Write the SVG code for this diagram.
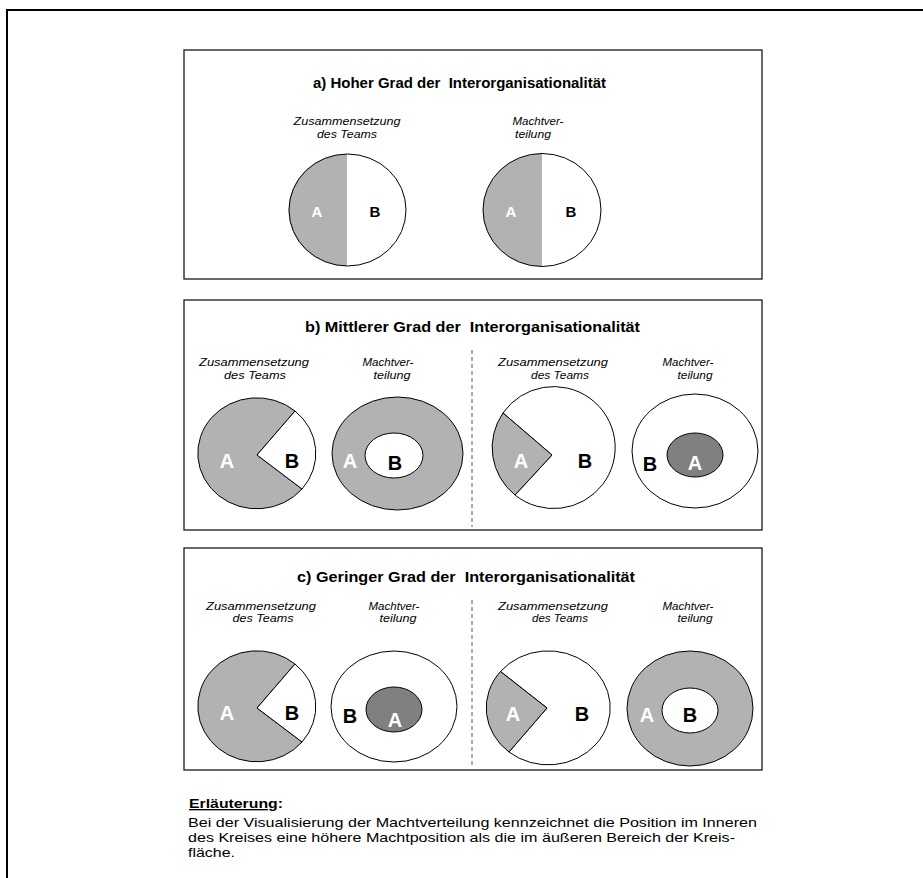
<svg xmlns="http://www.w3.org/2000/svg" width="923" height="878" viewBox="0 0 923 878">
<style>
.panel{fill:#fff;stroke:#1a1a1a;stroke-width:1.3}
.ttl{font-family:"Liberation Sans",Arial,sans-serif;font-weight:bold;font-size:15px;fill:#000}
.sub{font-family:"Liberation Sans",Arial,sans-serif;font-style:italic;font-size:11.5px;fill:#000;text-anchor:middle}
.lbl{font-family:"Liberation Sans",Arial,sans-serif;font-weight:bold;font-size:20px;text-anchor:middle}
.sm{font-size:15px}
.la{fill:#fff}
.lb{fill:#000}
.g{fill:#b2b2b2}
.d{fill:#808080}
.w{fill:#fff}
.ol{stroke:#000;stroke-width:1}
.sep{stroke:#555;stroke-width:1;stroke-dasharray:4 3;fill:none}
.txt{font-family:"Liberation Sans",Arial,sans-serif;font-size:13.5px;fill:#000}
</style>
<path d="M7,880 V10 H925" fill="none" stroke="#000" stroke-width="2"/>

<g id="panel-a">
<rect class="panel" x="184" y="50" width="578" height="229"/>
<text class="ttl" x="313" y="88" textLength="293" lengthAdjust="spacingAndGlyphs" xml:space="preserve">a) Hoher Grad der  Interorganisationalität</text>
<g id="a-zusammensetzung">
<text class="sub" x="347" y="125" textLength="107" lengthAdjust="spacingAndGlyphs">Zusammensetzung</text>
<text class="sub" x="347" y="137.5" textLength="60" lengthAdjust="spacingAndGlyphs">des Teams</text>
<ellipse class="w" cx="347.5" cy="210" rx="58.5" ry="56"/>
<path class="g" d="M347,154 A58.5,56 0 0,0 347,266 Z"/>
<ellipse cx="347.5" cy="210" rx="58.5" ry="56" fill="none" class="ol"/>
<text class="lbl sm la" x="317" y="217">A</text>
<text class="lbl sm lb" x="375" y="217">B</text>
</g>
<g id="a-machtverteilung">
<text class="sub" x="538" y="125">Machtver-</text>
<text class="sub" x="533" y="137.5" textLength="36" lengthAdjust="spacingAndGlyphs">teilung</text>
<ellipse class="w" cx="542" cy="210" rx="59" ry="56.5"/>
<path class="g" d="M542,153.5 A59,56.5 0 0,0 542,266.5 Z"/>
<ellipse cx="542" cy="210" rx="59" ry="56.5" fill="none" class="ol"/>
<text class="lbl sm la" x="511" y="217">A</text>
<text class="lbl sm lb" x="571" y="217">B</text>
</g>
</g>

<g id="panel-b">
<rect class="panel" x="184" y="300" width="578" height="230"/>
<text class="ttl" x="305" y="332" textLength="335" lengthAdjust="spacingAndGlyphs" xml:space="preserve">b) Mittlerer Grad der  Interorganisationalität</text>
<g id="b1-zusammensetzung">
<text class="sub" x="254" y="366" textLength="110" lengthAdjust="spacingAndGlyphs">Zusammensetzung</text>
<text class="sub" x="255" y="378.5" textLength="62" lengthAdjust="spacingAndGlyphs">des Teams</text>
<path class="g ol" d="M257,455 L302,489 A59,55.5 0 1,1 295,411 Z"/>
<path class="w ol" d="M257,455 L295,411 A59,55.5 0 0,1 302,489 Z"/>
<text class="lbl la" x="227" y="468">A</text>
<text class="lbl lb" x="292" y="468">B</text>
</g>
<g id="b1-machtverteilung">
<text class="sub" x="388" y="366">Machtver-</text>
<text class="sub" x="392" y="378.5" textLength="37" lengthAdjust="spacingAndGlyphs">teilung</text>
<ellipse class="g ol" cx="397.5" cy="453.5" rx="65.5" ry="56.5"/>
<ellipse class="w ol" cx="394" cy="455.5" rx="29" ry="22.5"/>
<text class="lbl la" x="350" y="468">A</text>
<text class="lbl lb" x="395" y="470">B</text>
</g>
<g id="b2-zusammensetzung">
<text class="sub" x="553" y="366" textLength="110" lengthAdjust="spacingAndGlyphs">Zusammensetzung</text>
<text class="sub" x="560" y="378.5" textLength="58" lengthAdjust="spacingAndGlyphs">des Teams</text>
<path class="w ol" d="M552,455 L503,413 A61.5,61 0 1,1 515,495 Z"/>
<path class="g ol" d="M552,455 L515,495 A61.5,61 0 0,1 503,413 Z"/>
<text class="lbl la" x="521" y="468">A</text>
<text class="lbl lb" x="585" y="468">B</text>
</g>
<g id="b2-machtverteilung">
<text class="sub" x="688" y="366">Machtver-</text>
<text class="sub" x="695" y="378.5" textLength="35" lengthAdjust="spacingAndGlyphs">teilung</text>
<ellipse class="w ol" cx="695" cy="451" rx="63" ry="57"/>
<ellipse class="d ol" cx="695" cy="455" rx="28" ry="22"/>
<text class="lbl lb" x="650" y="471">B</text>
<text class="lbl la" x="695" y="470">A</text>
</g>
</g>

<g id="panel-c">
<rect class="panel" x="184" y="548" width="578" height="222"/>
<text class="ttl" x="297" y="582" textLength="338" lengthAdjust="spacingAndGlyphs" xml:space="preserve">c) Geringer Grad der  Interorganisationalität</text>
<g id="c1-zusammensetzung">
<text class="sub" x="261" y="609.5" textLength="110" lengthAdjust="spacingAndGlyphs">Zusammensetzung</text>
<text class="sub" x="263" y="622" textLength="61" lengthAdjust="spacingAndGlyphs">des Teams</text>
<path class="g ol" d="M257,708 L302,742 A59,55.5 0 1,1 295,664 Z"/>
<path class="w ol" d="M257,708 L295,664 A59,55.5 0 0,1 302,742 Z"/>
<text class="lbl la" x="227" y="720">A</text>
<text class="lbl lb" x="292" y="720">B</text>
</g>
<g id="c1-machtverteilung">
<text class="sub" x="394" y="609.5">Machtver-</text>
<text class="sub" x="398" y="622" textLength="37" lengthAdjust="spacingAndGlyphs">teilung</text>
<ellipse class="w ol" cx="394" cy="706.5" rx="63" ry="55.5"/>
<ellipse class="d ol" cx="394" cy="709.5" rx="28" ry="22.5"/>
<text class="lbl lb" x="350" y="723">B</text>
<text class="lbl la" x="395" y="727">A</text>
</g>
<g id="c2-zusammensetzung">
<text class="sub" x="553" y="609.5" textLength="110" lengthAdjust="spacingAndGlyphs">Zusammensetzung</text>
<text class="sub" x="560" y="622" textLength="56" lengthAdjust="spacingAndGlyphs">des Teams</text>
<path class="w ol" d="M547,708 L500.5,671.5 A62,57 0 1,1 509,752 Z"/>
<path class="g ol" d="M547,708 L509,752 A62,57 0 0,1 500.5,671.5 Z"/>
<text class="lbl la" x="513" y="721">A</text>
<text class="lbl lb" x="582" y="721">B</text>
</g>
<g id="c2-machtverteilung">
<text class="sub" x="688" y="609.5">Machtver-</text>
<text class="sub" x="695" y="622" textLength="35" lengthAdjust="spacingAndGlyphs">teilung</text>
<ellipse class="g ol" cx="690" cy="708.5" rx="63" ry="57.5"/>
<ellipse class="w ol" cx="690" cy="710.5" rx="28" ry="22.5"/>
<text class="lbl la" x="647" y="722">A</text>
<text class="lbl lb" x="690" y="722">B</text>
</g>
</g>

<g id="connectors">
<line class="sep" x1="472" y1="350" x2="472" y2="527"/>
<line class="sep" x1="472" y1="600" x2="472" y2="768"/>
</g>

<g id="explanation">
<text class="txt" x="189" y="808" font-weight="bold" textLength="94" lengthAdjust="spacingAndGlyphs"><tspan text-decoration="underline">Erläuterung</tspan>:</text>
<text class="txt" x="188" y="827" textLength="569" lengthAdjust="spacingAndGlyphs">Bei der Visualisierung der Machtverteilung kennzeichnet die Position im Inneren</text>
<text class="txt" x="188" y="842" textLength="547" lengthAdjust="spacingAndGlyphs">des Kreises eine höhere Machtposition als die im äußeren Bereich der Kreis-</text>
<text class="txt" x="188" y="857" textLength="47" lengthAdjust="spacingAndGlyphs">fläche.</text>
</g>
</svg>
